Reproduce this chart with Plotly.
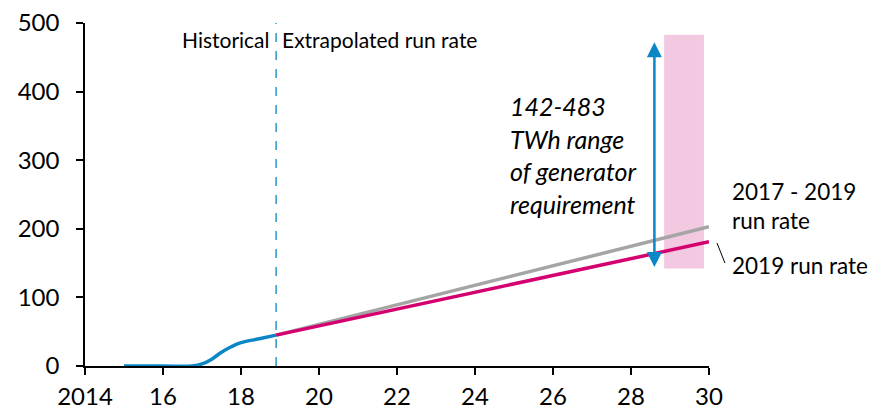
import plotly.graph_objects as go

# data
hist_years = [2015, 2016, 2016.75, 2017, 2017.25, 2017.5, 2017.75, 2018, 2018.5, 2018.9]
hist_values = [0, 0, 0, 3, 10, 20, 28, 34, 40, 45]
proj_years = [2018.9, 2030]
run_rate_17_19 = [45, 203]
run_rate_19 = [45, 181]
split_year = 2018.9
range_low, range_high = 142, 483
range_x = [2028.85, 2029.87]
arrow_x = 2028.6
arrow_top = 472
x_ticks = [2014, 2016, 2018, 2020, 2022, 2024, 2026, 2028, 2030]
x_labels = ["2014", "16", "18", "20", "22", "24", "26", "28", "30"]

BLUE = "#0A87C4"
PINK = "#D5006F"
GREY = "#A5A5A5"
FONT = "Lato"

fig = go.Figure()

fig.add_trace(go.Scatter(
    x=proj_years, y=run_rate_17_19, mode="lines",
    line=dict(color=GREY, width=3.5), showlegend=False,
))
fig.add_trace(go.Scatter(
    x=proj_years, y=run_rate_19, mode="lines",
    line=dict(color=PINK, width=3.5), showlegend=False,
))
fig.add_trace(go.Scatter(
    x=hist_years, y=hist_values, mode="lines",
    line=dict(color=BLUE, width=3.5, shape="spline", smoothing=1.0),
    showlegend=False,
))

# required generation range band
fig.add_shape(type="rect", xref="x", yref="y",
              x0=range_x[0], x1=range_x[1], y0=range_low, y1=range_high,
              fillcolor="#F3C8E1", line_width=0, layer="below")

# historical / extrapolated split
fig.add_shape(type="line", xref="x", yref="paper",
              x0=split_year, x1=split_year, y0=0, y1=1,
              line=dict(color=BLUE, width=1.3, dash="dash"))

# leader line for "2019 run rate"
fig.add_shape(type="line", xref="paper", yref="paper",
              x0=1.0128, x1=1.0256, y0=0.3586, y1=0.300,
              line=dict(color="black", width=1))

fig.add_annotation(
    x=arrow_x, y=arrow_top, ax=arrow_x, ay=range_low,
    xref="x", yref="y", axref="x", ayref="y",
    showarrow=True, arrowside="end+start", arrowhead=2,
    arrowsize=1.2, arrowwidth=2.5, arrowcolor=BLUE, text="",
)

fig.add_annotation(x=split_year, y=0.953, xref="x", yref="paper",
                   text="Historical", showarrow=False, xanchor="right",
                   yanchor="middle", xshift=-4, font=dict(size=21))
fig.add_annotation(x=split_year, y=0.953, xref="x", yref="paper",
                   text="Extrapolated run rate", showarrow=False,
                   xanchor="left", yanchor="middle", xshift=4,
                   font=dict(size=21))
fig.add_annotation(x=2024.85, y=308, xref="x", yref="y",
                   text="<i>142-483<br>TWh range<br>of generator<br>requirement</i>",
                   showarrow=False, xanchor="left", yanchor="middle",
                   align="left", font=dict(size=25))
fig.add_annotation(x=1.033, y=0.467, xref="paper", yref="paper",
                   text="2017 - 2019<br>run rate", showarrow=False,
                   xanchor="left", yanchor="middle", align="left",
                   font=dict(size=22.5))
fig.add_annotation(x=1.033, y=0.294, xref="paper", yref="paper",
                   text="2019 run rate", showarrow=False,
                   xanchor="left", yanchor="middle", align="left",
                   font=dict(size=22.5))

# page body has an 8px margin, so the figure is shrunk by that much
fig.update_layout(
    width=874, height=402,
    margin=dict(l=77, r=173, t=15, b=44),
    plot_bgcolor="white", paper_bgcolor="white",
    font=dict(family=FONT, color="black", size=24),
    showlegend=False,
)
fig.update_xaxes(
    range=[2014, 2030], tickvals=x_ticks, ticktext=x_labels,
    showline=True, linecolor="black", linewidth=1.5,
    ticks="outside", ticklen=7, tickwidth=1.5, tickcolor="black",
    showgrid=False, zeroline=False, automargin=False,
    ticklabelstandoff=1, ticklabeloverflow="allow",
)
fig.update_yaxes(
    range=[0, 500], dtick=100,
    showline=True, linecolor="black", linewidth=1.5,
    ticks="outside", ticklen=7, tickwidth=1.5, tickcolor="black",
    showgrid=False, zeroline=False, automargin=False,
    ticklabelstandoff=12, ticklabeloverflow="allow",
)

fig.write_html("out.html")
